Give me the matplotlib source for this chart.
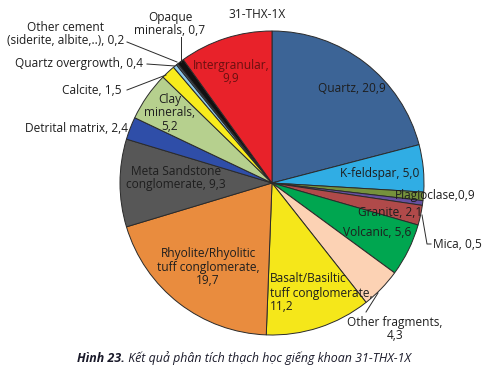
import matplotlib.pyplot as plt

# slices, clockwise from 12 o'clock
names = ["Quartz", "K-feldspar", "Plagioclase", "Mica", "Granite", "Volcanic",
         "Other fragments", "Basalt/Basiltic tuff conglomerate",
         "Rhyolite/Rhyolitic tuff conglomerate", "Meta Sandstone conglomerate",
         "Detrital matrix", "Clay minerals", "Calcite", "Quartz overgrowth",
         "Other cement", "Opaque minerals", "Intergranular"]
values = [20.9, 5.0, 0.9, 0.5, 2.1, 5.6, 4.3, 11.2, 19.7, 9.3, 2.4, 5.2,
          1.5, 0.4, 0.2, 0.7, 9.9]
colors = ["#3c6496", "#30ade4", "#76923c", "#6650a0", "#b04a4a", "#00a650",
          "#fcd2b4", "#f5e71a", "#e98c3e", "#575757", "#2f4ea8", "#b6d08e",
          "#f8ec1c", "#8cc8e8", "#4a5a6a", "#111111", "#e8222a"]

title = "31-THX-1X"
caption_bold = "Hình 23."
caption_rest = " Kết quả phân tích thạch học giếng khoan 31-THX-1X"

plt.rcParams['font.family'] = ['Open Sans', 'DejaVu Sans']

W, H = 488, 373
cx, cy, r = 272, 183, 152  # pie centre / radius in pixels


def d(px, py):
    """pixel position -> data coords of the pie axes"""
    return ((px - cx) / r, (cy - py) / r)


fig = plt.figure(figsize=(W / 100, H / 100), dpi=100)
ax = fig.add_axes([(cx - r) / W, (H - cy - r) / H, 2 * r / W, 2 * r / H])
ax.pie(values, colors=colors, startangle=90, counterclock=False,
       wedgeprops=dict(edgecolor="#2a2a2a", linewidth=0.7))
ax.set_xlim(-1, 1)
ax.set_ylim(-1, 1)
ax.set_aspect('equal')
ax.axis('off')

fs = 8.6
tc = "#1e1e1e"

# labels inside the pie
inside = [
    ("Quartz, 20,9", (352, 89), 'center'),
    ("K-feldspar, 5,0", (380, 173), 'center'),
    ("Plagioclase,0,9", (435, 195), 'center'),
    ("Granite, 2,1", (390, 212), 'center'),
    ("Volcanic, 5,6", (377, 232), 'center'),
    ("Rhyolite/Rhyolitic\ntuff conglomerate,\n19,7", (208, 267), 'center'),
    ("Meta Sandstone\nconglomerate, 9,3", (176, 178), 'center'),
    ("Clay\nminerals,\n5,2", (170, 113), 'center'),
]
for txt, pos, ha in inside:
    ax.text(*d(*pos), txt, ha=ha, va='center', fontsize=fs, color=tc,
            linespacing=1.0)

ax.text(*d(270, 293), "Basalt/Basiltic\ntuff conglomerate,\n11,2", ha='left',
        va='center', fontsize=fs, color=tc, linespacing=1.1)
ax.text(*d(231, 72), "Intergranular,\n9,9", ha='center', va='center',
        fontsize=fs, color="#6a1010", linespacing=1.0)

# labels outside the pie
ax.text(*d(128, 128), "Detrital matrix, 2,4", ha='right', va='center',
        fontsize=fs, color=tc)
ax.text(*d(122, 91), "Calcite, 1,5", ha='right', va='center', fontsize=fs, color=tc)
ax.text(*d(143, 63), "Quartz overgrowth, 0,4", ha='right', va='center',
        fontsize=fs, color=tc)
ax.text(*d(66, 34), "Other cement\n(siderite, albite,..), 0,2", ha='center',
        va='center', fontsize=fs, color=tc, linespacing=1.0)
ax.text(*d(170, 24), "Opaque\nminerals, 0,7", ha='center', va='center',
        fontsize=fs, color=tc, linespacing=1.0)
ax.text(*d(433, 244), "Mica, 0,5", ha='left', va='center', fontsize=fs, color=tc)
ax.text(*d(395, 329), "Other fragments,\n4,3", ha='center', va='center',
        fontsize=fs, color=tc, linespacing=1.0)

# leader lines
leaders = [
    [(127, 90), (166, 75)],
    [(147, 64), (175, 66)],
    [(127, 42), (177, 62)],
    [(181, 37), (181, 62)],
    [(422, 215), (427, 244), (431, 244)],
    [(366, 312), (378, 293)],
]
for pts in leaders:
    xs, ys = zip(*[d(*p) for p in pts])
    ax.plot(xs, ys, color="#2a2a2a", linewidth=0.7, clip_on=False)

fig.text(257 / W, 1 - 15 / H, title, ha='center', va='center', fontsize=fs,
         color=tc)

# caption: bold italic figure number + italic text
cap = fig.text(77 / W, 1 - 358 / H, caption_bold, ha='left', va='center',
               fontsize=8.9, fontweight='bold', style='italic', color="#1a1a2a")
fig.canvas.draw()
bb = cap.get_window_extent()
fig.text(bb.x1 / W, 1 - 358 / H, caption_rest, ha='left', va='center',
         fontsize=8.9, style='italic', color="#1a1a2a")

fig.savefig("out.png", dpi=100)
